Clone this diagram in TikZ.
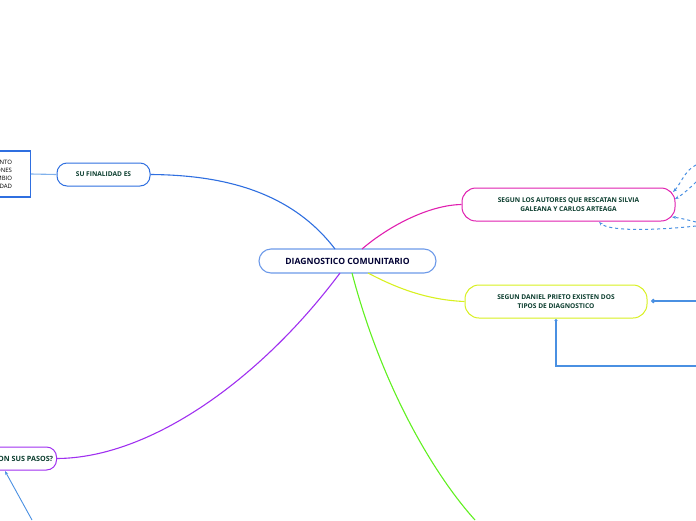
\documentclass[tikz,border=0pt]{standalone}
\usepackage{fontspec}
\setmainfont{Open Sans}
\usetikzlibrary{arrows.meta}
\definecolor{txt}{HTML}{0B3D2E}
\definecolor{cblue}{HTML}{2F6FE0}
\definecolor{lblue}{HTML}{4A90E2}
\definecolor{cpink}{HTML}{E020B0}
\definecolor{cyel}{HTML}{D8F020}
\definecolor{cpur}{HTML}{A030F0}
\definecolor{cgreen}{HTML}{60F020}
\tikzset{
 topic/.style={draw, rounded corners=10pt, fill=white, font=\bfseries\fontsize{6.6}{9}\selectfont, text=txt, align=center, line width=1pt},
 link/.style={line width=1.1pt}}
\begin{document}
\begin{tikzpicture}[x=1pt,y=-1pt]
\useasboundingbox (0,0) rectangle (696,520);
\clip (0,0) rectangle (696,520);
\node[topic, draw=cblue!70, line width=1.1pt, rounded corners=12pt, minimum width=177pt, minimum height=24pt, font=\bfseries\fontsize{8.6}{10}\selectfont, text=black!80!blue] (c) at (347.5,261) {DIAGNOSTICO COMUNITARIO};
\node[topic, draw=cblue, minimum width=93pt, minimum height=23pt] (f) at (103.5,174.5) {SU FINALIDAD ES};
\node[draw=cblue, line width=1.2pt, minimum width=60pt, minimum height=46pt, anchor=east, align=right, inner sep=3pt, font=\fontsize{6}{8}\selectfont] (fb) at (31,174) {MIENTO\\CIONES\\CAMBIO\\ESIDAD};
\node[topic, draw=cpink, minimum width=213pt, minimum height=33pt, rounded corners=14pt] (p) at (568.5,204.5) {SEGUN LOS AUTORES QUE RESCATAN SILVIA\\GALEANA Y CARLOS ARTEAGA};
\node[topic, draw=cyel, minimum width=182pt, minimum height=33pt, rounded corners=14pt] (y) at (556,301.5) {SEGUN DANIEL PRIETO EXISTEN DOS\\TIPOS DE DIAGNOSTICO};
\node[topic, draw=cpur, minimum width=90pt, minimum height=23pt, anchor=east, font=\bfseries\fontsize{7.2}{9}\selectfont] (s) at (57,458.5) {¿CUÁLES SON SUS PASOS?};
\coordinate (g) at (475,520);
\coordinate (b1) at (32,520);
\coordinate (r1) at (696,165); \coordinate (r2) at (696,182);
\coordinate (r3) at (696,222); \coordinate (r4) at (696,226);
\coordinate (r5) at (696,301); \coordinate (r6) at (696,366);
\draw[link, lblue!70] (fb.east) -- (f.west);
\draw[link, cblue] (335,249) .. controls (290,190) and (220,175) .. (f.east);
\draw[link, cpink] (362,249) .. controls (390,225) and (430,205) .. (p.west);
\draw[link, cyel] (368,273) .. controls (400,290) and (430,300) .. (y.west);
\draw[link, cpur] (340,273) .. controls (260,380) and (150,458) .. (s.east);
\draw[link, cgreen] (352,273) .. controls (380,380) and (430,470) .. (g);
\draw[line width=0.9pt, lblue, -{Stealth[length=4pt]}] (b1) -- (5,471);
\draw[line width=1pt, lblue, dashed, -{Stealth[length=4pt]}] (r1) .. controls (685,170) and (680,185) .. (673,192);
\draw[line width=1pt, lblue, dashed, -{Stealth[length=4pt]}] (r2) .. controls (690,188) and (682,195) .. (675,199);
\draw[line width=1pt, lblue, dashed, -{Stealth[length=4pt]}] (r3) .. controls (688,220) and (680,218) .. (672,217);
\draw[line width=1pt, lblue, dashed, -{Stealth[length=4pt]}] (r4) .. controls (660,230) and (610,232) .. (599,222);
\draw[line width=1.1pt, lblue, {Circle[length=4.5pt]}-] (651,301) -- (r5);
\draw[line width=1.1pt, lblue, {Circle[length=3pt]}-] (556,319) |- (r6);
\end{tikzpicture}
\end{document}
